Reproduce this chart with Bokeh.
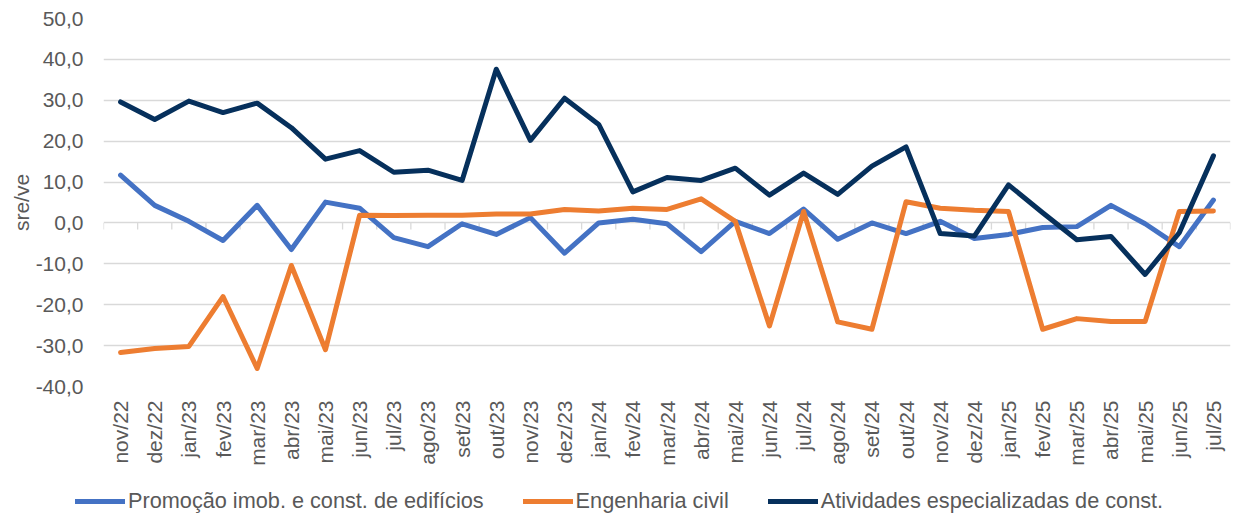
from math import pi
from bokeh.plotting import figure
from bokeh.layouts import column
from bokeh.models import Range1d, FixedTicker, Legend, LegendItem
from bokeh.embed import file_html
from bokeh.resources import INLINE

months = ["nov/22", "dez/22", "jan/23", "fev/23", "mar/23", "abr/23", "mai/23", "jun/23",
          "jul/23", "ago/23", "set/23", "out/23", "nov/23", "dez/23", "jan/24", "fev/24",
          "mar/24", "abr/24", "mai/24", "jun/24", "jul/24", "ago/24", "set/24", "out/24",
          "nov/24", "dez/24", "jan/25", "fev/25", "mar/25", "abr/25", "mai/25", "jun/25",
          "jul/25"]

promocao = [11.7, 4.3, 0.4, -4.3, 4.3, -6.5, 5.1, 3.6, -3.6, -5.8, -0.2, -2.8, 1.3, -7.4,
            0.0, 0.9, -0.2, -7.0, 0.4, -2.6, 3.4, -4.0, 0.0, -2.6, 0.4, -3.8, -2.8, -1.1,
            -0.9, 4.3, -0.2, -5.8, 5.6]

engenharia = [-31.7, -30.7, -30.2, -18.0, -35.6, -10.4, -31.0, 1.9, 1.8, 1.9, 1.9, 2.2, 2.2,
              3.3, 2.9, 3.6, 3.3, 5.9, 0.4, -25.2, 2.8, -24.2, -26.0, 5.2, 3.6, 3.1, 2.8,
              -26.0, -23.4, -24.1, -24.1, 2.8, 2.9]

atividades = [29.6, 25.3, 29.8, 27.0, 29.3, 23.3, 15.6, 17.7, 12.4, 12.9, 10.4, 37.6, 20.2,
              30.5, 24.1, 7.6, 11.1, 10.4, 13.4, 6.8, 12.2, 7.0, 13.9, 18.6, -2.6, -3.2, 9.3,
              2.5, -4.1, -3.3, -12.6, -2.4, 16.4]

series_names = ["Promoção imob. e const. de edifícios", "Engenharia civil",
                "Atividades especializadas de const."]
series_colors = ["#4472C4", "#ED7D31", "#06305C"]

y_ticks = [-40, -30, -20, -10, 0, 10, 20, 30, 40, 50]
y_tick_labels = ["-40,0", "-30,0", "-20,0", "-10,0", "0,0", "10,0", "20,0", "30,0", "40,0", "50,0"]

FONT = "Liberation Sans"
TXT = "#595959"
GRID = "#D9D9D9"
LW = 5

idx = list(range(len(months)))
all_series = [promocao, engenharia, atividades]

p = figure(width=1234, height=475, output_backend="svg", toolbar_location=None,
           x_range=Range1d(-0.5, len(months) - 0.5), y_range=Range1d(-40, 50),
           min_border_left=103, min_border_right=4, min_border_top=18, min_border_bottom=89)
p.frame_align = False
p.outline_line_color = None
p.background_fill_color = "white"
p.border_fill_color = "white"

# grid
p.xgrid.visible = False
p.ygrid.ticker = FixedTicker(ticks=y_ticks)
p.ygrid.grid_line_color = GRID
p.ygrid.grid_line_width = 1.3

# y axis
p.yaxis.ticker = FixedTicker(ticks=y_ticks)
p.yaxis.major_label_overrides = {t: l for t, l in zip(y_ticks, y_tick_labels)}
p.yaxis.axis_line_color = None
p.yaxis.major_tick_line_color = None
p.yaxis.minor_tick_line_color = None
p.yaxis.major_tick_out = 0
p.yaxis.major_label_standoff = 20
p.yaxis.major_label_text_font = FONT
p.yaxis.major_label_text_font_size = "21px"
p.yaxis.major_label_text_color = TXT
p.yaxis.axis_label = "sre/ve"
p.yaxis.axis_label_text_font = FONT
p.yaxis.axis_label_text_font_size = "21px"
p.yaxis.axis_label_text_font_style = "normal"
p.yaxis.axis_label_text_color = TXT
p.yaxis.axis_label_standoff = 0

# x axis (labels at the bottom)
p.xaxis.ticker = FixedTicker(ticks=idx)
p.xaxis.major_label_overrides = {i: m for i, m in zip(idx, months)}
p.xaxis.major_label_orientation = pi / 2
p.xaxis.axis_line_color = None
p.xaxis.major_tick_line_color = None
p.xaxis.minor_tick_line_color = None
p.xaxis.major_tick_out = 0
p.xaxis.major_label_standoff = 14
p.xaxis.major_label_text_font = FONT
p.xaxis.major_label_text_font_size = "21px"
p.xaxis.major_label_text_color = TXT

# category tick marks on the zero line
bounds = [i - 0.5 for i in range(len(months) + 1)]
p.segment(x0=bounds, y0=[0] * len(bounds), x1=bounds, y1=[-1.6] * len(bounds),
          line_color=GRID, line_width=1.3)

for vals, col in zip(all_series, series_colors):
    p.line(idx, vals, line_color=col, line_width=LW, line_join="round", line_cap="round")

# legend strip below the chart
lg = figure(width=1234, height=40, output_backend="svg", toolbar_location=None,
            x_range=Range1d(0, 1), y_range=Range1d(0, 1),
            min_border_left=0, min_border_right=0, min_border_top=0, min_border_bottom=0)
lg.frame_align = False
lg.axis.visible = False
lg.grid.visible = False
lg.outline_line_color = None
lg.border_fill_color = "white"
lg.background_fill_color = "white"

# single-point lines: nothing visible is drawn, they only carry the legend styling
keys = [lg.line(x=idx[:1], y=vals[:1], line_color=col, line_width=LW, line_cap="round")
        for vals, col in zip(all_series, series_colors)]
legend = Legend(items=[LegendItem(label=n, renderers=[r]) for n, r in zip(series_names, keys)],
                orientation="horizontal", location=(75, 1), padding=0, margin=0,
                spacing=39, glyph_width=50, glyph_height=20, label_standoff=3,
                label_text_font=FONT, label_text_font_size="21.7px", label_text_color=TXT,
                border_line_color=None, background_fill_alpha=0)
lg.add_layout(legend)

layout = column(p, lg, spacing=0)
open("out.html", "w").write(file_html(layout, INLINE))
